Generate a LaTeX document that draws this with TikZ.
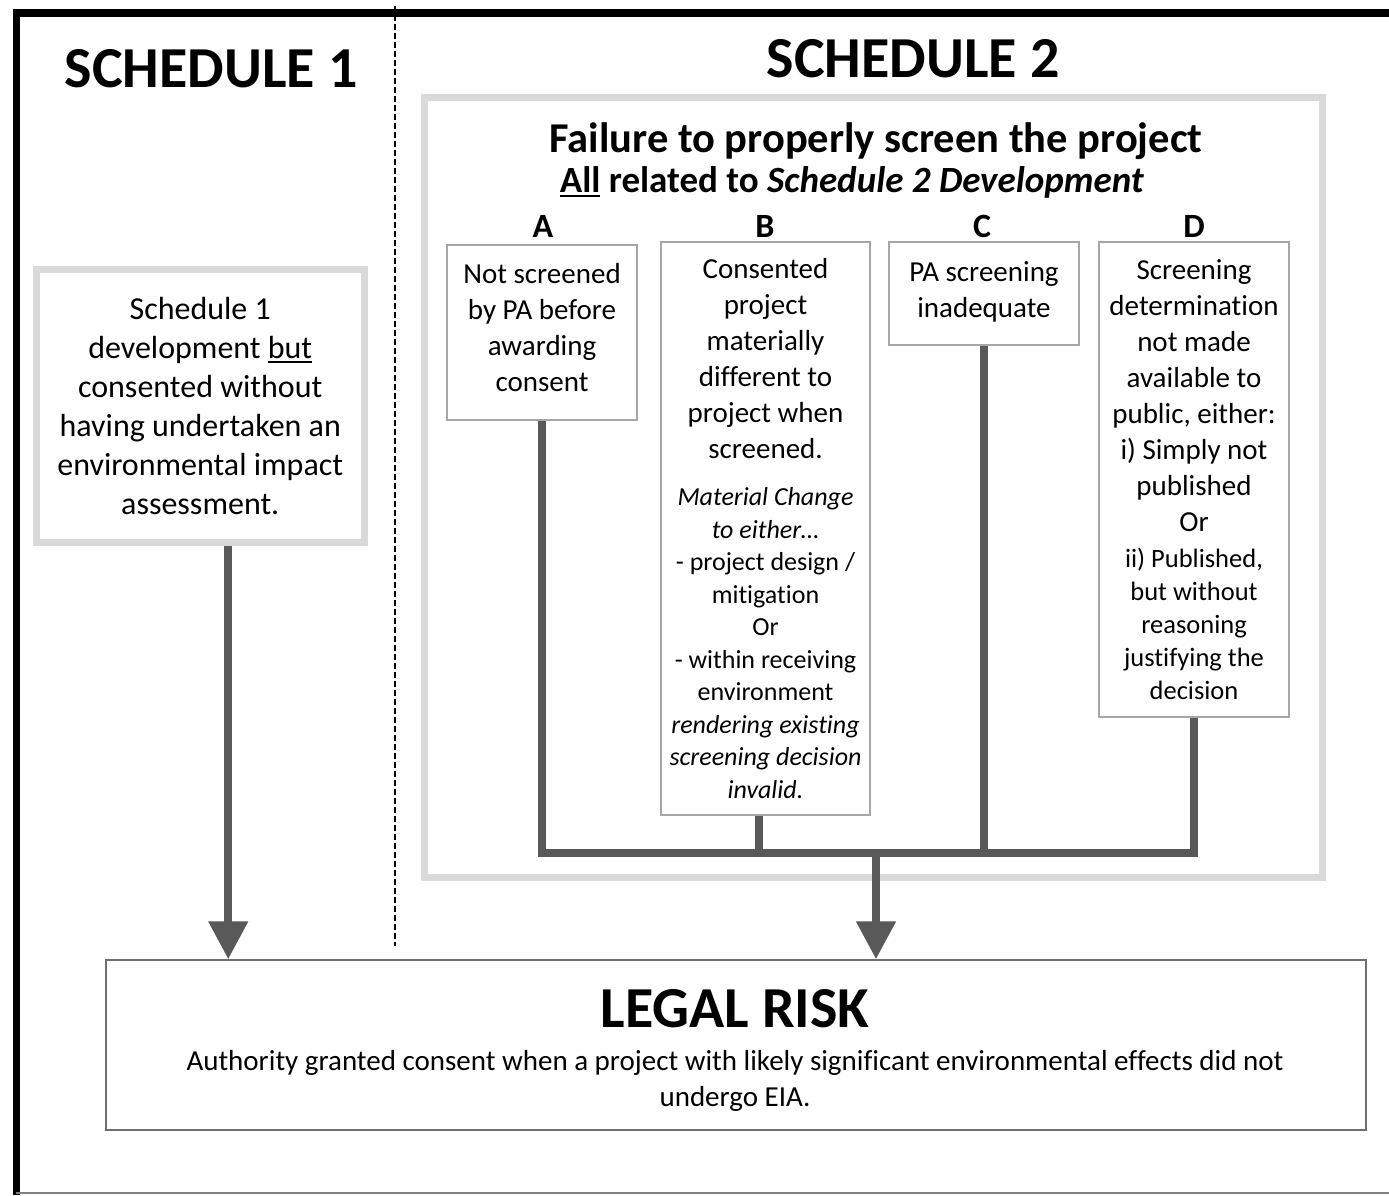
\documentclass[tikz,border=0pt]{standalone}
\usepackage{fontspec}
\setmainfont[Ligatures=NoCommon]{Carlito}
\usetikzlibrary{arrows.meta}
\definecolor{connc}{HTML}{595959}
\definecolor{lightframe}{HTML}{D9D9D9}
\definecolor{thinframe}{HTML}{A6A6A6}
\definecolor{legalframe}{HTML}{6E6E6E}
\newcommand{\fsz}[2]{\fontsize{#1}{#2}\selectfont}
\newsavebox{\myulbox}
\newcommand{\myul}[1]{\sbox{\myulbox}{#1}\rlap{\rule[-0.14em]{\wd\myulbox}{0.07em}}\usebox{\myulbox}}
\newcommand{\dstrut}[1]{\rule[-#1]{0pt}{0pt}}
\tikzset{
  bigframe/.style={draw=lightframe, line width=7pt, fill=white, inner sep=0pt},
  causebox/.style={draw=thinframe, line width=1.5pt, fill=white, align=flush center, inner sep=0pt, font=\fsz{29}{36}},
  heading/.style={font=\fsz{58}{70}\bfseries, inner sep=0pt, anchor=base},
  letterlab/.style={font=\fsz{34}{40}\bfseries, inner sep=0pt, anchor=base},
  connector/.style={draw=connc, line width=8pt},
  arrowconn/.style={connector, -{Triangle[width=38pt,length=38pt]}}
}
\begin{document}
\begin{tikzpicture}[x=1pt,y=-1pt]
\useasboundingbox (0,0) rectangle (1389,1195);
% outer frame
\fill[black] (12.5,9.3) rectangle (1389,17.3);
\fill[black] (12.5,9.3) rectangle (20,1195);
\draw[gray, line width=2pt] (16,1193) -- (1389,1193);
% divider
\draw[black, line width=1.8pt, dash pattern=on 6pt off 3pt] (395,6) -- (395,946);

% titles
\node[heading] (s1title) at (211,87) {SCHEDULE 1};
\node[heading] (s2title) at (913,77) {SCHEDULE 2};

% schedule 2 frame
\node[bigframe, minimum width=898pt, minimum height=780pt] (s2box) at (873,487) {};
\node[font=\fsz{42.5}{50}\bfseries, anchor=base, inner sep=0pt] (fail) at (876,152) {Failure to properly screen the project};
\node[font=\fsz{37}{44}\bfseries, anchor=base, inner sep=0pt] (allrel) at (852,192) {\myul{All} related to \textit{Schedule 2 Development}};

\node[letterlab] (la) at (543,237) {A};
\node[letterlab] (lb) at (765,237) {B};
\node[letterlab] (lc) at (982,237) {C};
\node[letterlab] (ld) at (1194,237) {D};

% schedule 1 box
\node[bigframe, align=flush center, font=\fsz{32}{39}, text width=315pt, minimum width=327.5pt, minimum height=273.5pt] (sched1) at (200.25,406)
 {Schedule 1\\development \myul{but}\\consented without\\having undertaken an\\environmental impact\\assessment.};

% cause boxes
\node[causebox, text width=186pt, minimum width=190pt, minimum height=175pt] (A) at (542,332.5)
 {Not screened\\by PA before\\awarding\\consent\dstrut{10pt}};
\node[causebox, text width=205pt, minimum width=209pt, minimum height=573pt] (B) at (765.5,528.5)
 {Consented\\project\\materially\\different to\\project when\\screened.\par\vspace{14.5pt}
  {\fsz{26}{32.5}\textit{Material Change}\\\textit{to either…}\\- project design /\\mitigation\\Or\\- within receiving\\environment\\\textit{rendering existing}\\\textit{screening decision}\\\textit{invalid.}\par}};
\node[causebox, text width=186pt, minimum width=190pt, minimum height=103pt] (C) at (984,293.5)
 {PA screening\\inadequate\dstrut{7pt}};
\node[causebox, text width=186pt, minimum width=190pt, minimum height=475pt] (D) at (1194,479.5)
 {Screening\\determination\\not made\\available to\\public, either:\\i) Simply not\\published\\Or\par\vspace{3pt}
  {\fsz{26.5}{33}ii) Published,\\but without\\reasoning\\justifying the\\decision\par}};

% legal risk
\node[draw=legalframe, line width=1.5pt, fill=white, minimum width=1260pt, minimum height=170pt, inner sep=0pt] (legal) at (736,1045) {};
\node[heading] (risk) at (735,1027) {LEGAL RISK};
\node[font=\fsz{29}{36}, anchor=base, inner sep=0pt, align=flush center] (riskdesc) at (735,1106)
 {Authority granted consent when a project with likely significant environmental effects did not\\undergo EIA.};

% connectors
\coordinate (bus) at (876,853);
\draw[connector] (A.south) |- (D.south |- bus) -- (D.south);
\draw[connector] ([xshift=-7pt]B.south) -- ([xshift=-7pt]B.south |- bus);
\draw[connector] (C.south) -- (C.south |- bus);
\draw[arrowconn] (bus) -- (bus |- legal.north);
\draw[arrowconn] ([xshift=28pt]sched1.south) -- ([xshift=28pt]sched1.south |- legal.north);
\end{tikzpicture}
\end{document}
